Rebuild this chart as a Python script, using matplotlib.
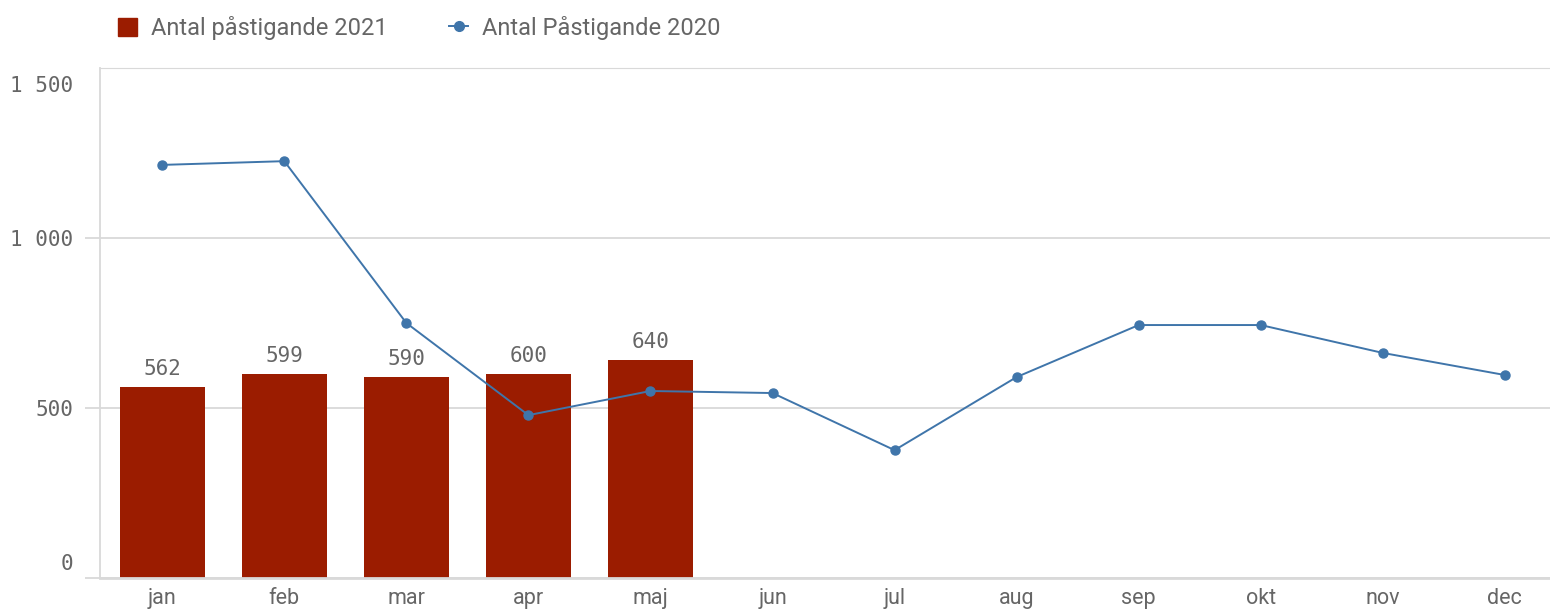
import matplotlib
matplotlib.use("Agg")
import matplotlib.pyplot as plt
import matplotlib.transforms as mtrans
from matplotlib.lines import Line2D
from matplotlib.patches import Patch
from matplotlib.ticker import FuncFormatter

months = ["jan", "feb", "mar", "apr", "maj", "jun", "jul", "aug", "sep", "okt", "nov", "dec"]
pass_2021 = [562, 599, 590, 600, 640]
pass_2020 = [1215, 1226, 750, 479, 550, 544, 376, 591, 744, 744, 662, 597]

bar_color = "#9b1c00"
line_color = "#3f75aa"
grid_color = "#d9d9d9"
text_color = "#666666"
mono = "DejaVu Sans Mono"
sans = "Roboto"

fig = plt.figure(figsize=(15.5, 6.1), dpi=100)
ax = fig.add_axes([100 / 1550, 1 - 578 / 610, 1 - 100 / 1550, (578 - 68) / 610])

x = list(range(len(months)))
bars = ax.bar(x[:len(pass_2021)], pass_2021, width=0.7, color=bar_color, zorder=2)
ax.plot(x, pass_2020, color=line_color, lw=1.4, marker="o", ms=6.5, zorder=3)

for xi, v in zip(x, pass_2021):
    ax.annotate(str(v), (xi, v), xytext=(0, 6), textcoords="offset points",
                ha="center", va="bottom", fontsize=15, family=mono, color=text_color)

ax.set_xlim(-0.51, 11.37)
ax.set_ylim(0, 1500)
ax.set_yticks([0, 500, 1000, 1500])
ax.yaxis.set_major_formatter(FuncFormatter(lambda v, p: f"{int(v):,}".replace(",", " ")))
ax.set_xticks(x)
ax.set_xticklabels(months, family=sans, fontsize=15.5, color=text_color)
for lab in ax.get_yticklabels():
    lab.set_family(mono)
    lab.set_fontsize(15)
    lab.set_color(text_color)

ax.grid(axis="y", color=grid_color, lw=1.3, zorder=0)
ax.spines["right"].set_visible(False)
ax.spines["top"].set_color(grid_color)
ax.spines["left"].set_color(grid_color)
ax.spines["left"].set_linewidth(1.3)
ax.spines["bottom"].set_color(grid_color)
ax.spines["bottom"].set_linewidth(2)
ax.tick_params(axis="y", length=11, color=grid_color, width=1.3, pad=8)
ax.tick_params(axis="x", length=0, pad=7)

# first and last y labels sit inside the plot range
yticks = ax.yaxis.get_major_ticks()
yticks[-1].tick1line.set_visible(False)
yticks[0].label1.set_transform(yticks[0].label1.get_transform() +
                               mtrans.ScaledTranslation(0, 16 / 100, fig.dpi_scale_trans))
yticks[-1].label1.set_transform(yticks[-1].label1.get_transform() +
                                mtrans.ScaledTranslation(0, -16 / 100, fig.dpi_scale_trans))

handles = [Patch(color=bar_color),
           Line2D([], [], color=line_color, lw=1.4, marker="o", ms=7)]
fig.legend(handles, ["Antal påstigande 2021", "Antal Påstigande 2020"],
           loc="center left", bbox_to_anchor=(97 / 1550, 1 - 28 / 610), ncol=2,
           frameon=False, prop={"family": sans, "size": 17}, labelcolor=text_color,
           handlelength=0.8, handleheight=0.8, handletextpad=0.6, columnspacing=2.6)

fig.savefig("out.png", dpi=100)
